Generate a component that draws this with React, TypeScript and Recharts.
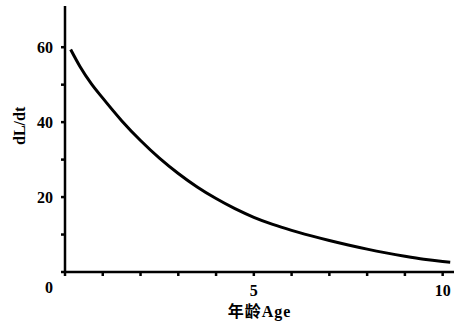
import { LineChart, Line, XAxis, YAxis } from "recharts";

const ages = [0.15, 0.4, 0.7, 1, 1.5, 2, 2.5, 3, 3.5, 4, 4.5, 5, 5.5, 6, 6.5, 7, 7.5, 8, 8.5, 9, 9.5, 10, 10.2];
const rates = [59.4, 54.8, 50.2, 46.4, 40.4, 35.1, 30.4, 26.3, 22.7, 19.6, 16.9, 14.6, 12.7, 11.1, 9.7, 8.4, 7.2, 6.1, 5.1, 4.2, 3.4, 2.8, 2.6];
const xTicks = [0, 1, 2, 3, 4, 5, 6, 7, 8, 9, 10];
const xLabels = [5, 10];
const yTicks = [0, 10, 20, 30, 40, 50, 60];
const yLabels = [0, 20, 40, 60];

const data = ages.map((age, i) => ({ age, rate: rates[i] }));

const font = '"Liberation Serif", "Noto Sans CJK SC", serif';

// y tick: the origin "0" sits below the corner, as in the scan
function YTick(props: any) {
  const { x, y, payload } = props;
  const v = payload.value;
  if (!yLabels.includes(v)) return null;
  return (
    <text
      x={x}
      y={v === 0 ? y + 15 : y}
      dy="0.35em"
      textAnchor="end"
      fontSize={16}
      fontWeight="bold"
      fontFamily={font}
      fill="#000"
    >
      {v}
    </text>
  );
}

export default function App() {
  return (
    <div style={{ position: "absolute", top: 0, left: 0, width: 456, height: 328, background: "#fff" }}>
      <LineChart width={456} height={328} data={data} margin={{ top: 6, right: 2, bottom: 6, left: 0 }}>
        <XAxis
          dataKey="age"
          type="number"
          domain={[0, 10.3]}
          ticks={xTicks}
          height={50}
          tickFormatter={(v) => (xLabels.includes(v) ? String(v) : "")}
          stroke="#000"
          strokeWidth={2.5}
          tickSize={4}
          tickMargin={9}
          tick={{ fill: "#000", fontSize: 16, fontWeight: "bold", fontFamily: font }}
          label={{
            value: "年龄Age",
            position: "insideBottom",
            offset: 5,
            fill: "#000",
            fontSize: 16,
            fontWeight: "bold",
            fontFamily: font,
            letterSpacing: 1,
          }}
        />
        <YAxis
          type="number"
          domain={[0, 71]}
          ticks={yTicks}
          width={65}
          stroke="#000"
          strokeWidth={2.5}
          tickSize={4}
          tickMargin={8}
          tick={<YTick />}
          label={{
            value: "dL/dt",
            angle: -90,
            position: "insideLeft",
            offset: 19,
            dy: 6,
            fill: "#000",
            fontSize: 16,
            fontWeight: "bold",
            fontFamily: font,
          }}
        />
        <Line
          type="monotone"
          dataKey="rate"
          stroke="#000"
          strokeWidth={3}
          dot={false}
          isAnimationActive={false}
        />
      </LineChart>
    </div>
  );
}
